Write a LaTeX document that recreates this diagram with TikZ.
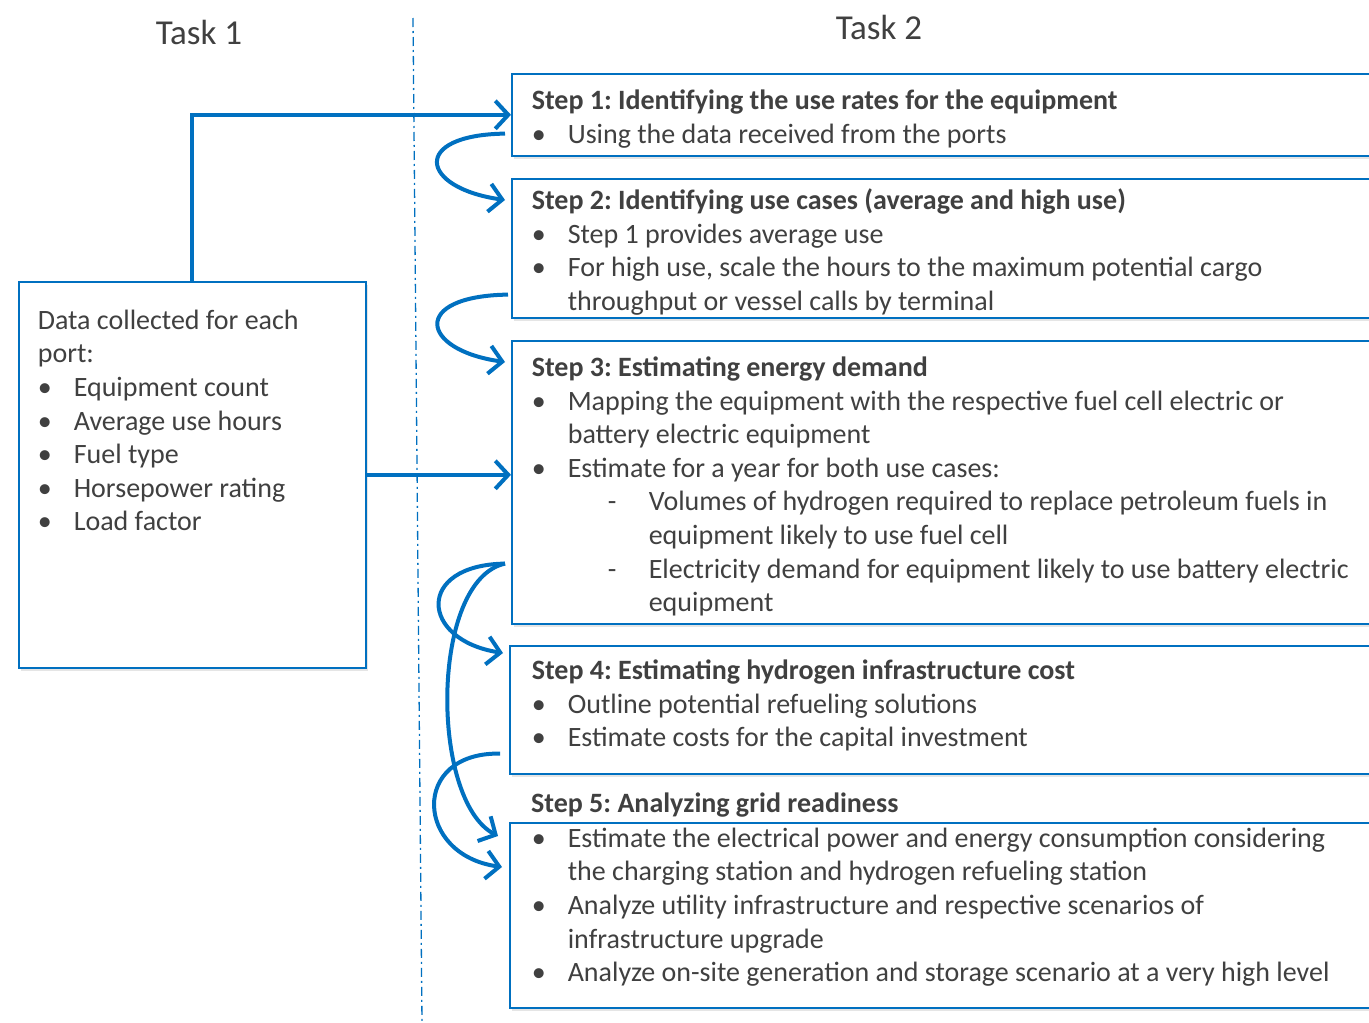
\documentclass[tikz,border=0pt]{standalone}
\usepackage{fontspec}
\setmainfont{Carlito}
\usetikzlibrary{arrows.meta,shadows}
\definecolor{stepblue}{RGB}{0,112,192}
\definecolor{textgray}{RGB}{64,64,64}
\frenchspacing
% bullet and dash items with hanging text
\newcommand{\bul}[1]{\par\hangindent=36pt\hangafter=1\noindent\makebox[36pt][l]{\textbullet}#1\par}
\newcommand{\subdash}[1]{\par\hangindent=117pt\hangafter=1\noindent\hspace*{76pt}\makebox[41pt][l]{-}#1\par}
% box text: height, width, top gap, content
\newcommand{\boxtext}[4]{\begin{minipage}[t][#1][t]{#2}\raggedright\vspace*{#3}#4\end{minipage}}

\begin{document}
\begin{tikzpicture}[x=1pt,y=-1pt,
    every node/.style={text=textgray,font=\fontsize{28}{33.6}\selectfont},
    stepbox/.style={draw=stepblue,line width=1.6pt,fill=white,anchor=north west,
      inner xsep=20pt,inner ysep=0pt,
      drop shadow={shadow xshift=2pt,shadow yshift=-3pt,opacity=.2}},
    flow/.style={stepblue,line width=4pt,-{Straight Barb[length=13pt,width=28pt]}}]
  \useasboundingbox (0,0) rectangle (1369,1023);
  \clip (0,0) rectangle (1369,1023);
  \fill[white] (0,0) rectangle (1369,1023);

  \node (task1) at (199,32) {\fontsize{35}{42}\selectfont Task 1};
  \node (task2) at (879,27) {\fontsize{35}{42}\selectfont Task 2};
  \draw[stepblue,line width=1.3pt,dash pattern=on 9pt off 4pt on 2pt off 4pt] (413,18) -- (422,1023);

  \node[stepbox,inner xsep=19pt] (data) at (18,281) {\boxtext{386pt}{309pt}{28pt}{%
      Data collected for each\\ port:
      \bul{Equipment count}
      \bul{Average use hours}
      \bul{Fuel type}
      \bul{Horsepower rating}
      \bul{Load factor}}};

  \node[stepbox] (s1) at (511,73) {\boxtext{82pt}{860pt}{16pt}{%
      \textbf{Step 1: Identifying the use rates for the equipment}
      \bul{Using the data received from the ports}}};
  \node[stepbox] (s2) at (511,178) {\boxtext{139pt}{860pt}{10pt}{%
      \textbf{Step 2: Identifying use cases (average and high use)}
      \bul{Step 1 provides average use}
      \bul{For high use, scale the hours to the maximum potential cargo\newline throughput or vessel calls by terminal}}};
  \node[stepbox] (s3) at (511,340) {\boxtext{283pt}{860pt}{16pt}{%
      \textbf{Step 3: Estimating energy demand}
      \bul{Mapping the equipment with the respective fuel cell electric or\newline battery electric equipment}
      \bul{Estimate for a year for both use cases:}
      \subdash{Volumes of hydrogen required to replace petroleum fuels in\newline equipment likely to use fuel cell}
      \subdash{Electricity demand for equipment likely to use battery electric\newline equipment}}};
  \node[stepbox,inner xsep=22pt] (s4) at (509,645) {\boxtext{128pt}{856pt}{14pt}{%
      \textbf{Step 4: Estimating hydrogen infrastructure cost}
      \bul{Outline potential refueling solutions}
      \bul{Estimate costs for the capital investment}}};
  \node[anchor=west,inner sep=0pt] (s5title) at (531,805) {\textbf{Step 5: Analyzing grid readiness}};
  \node[stepbox,inner xsep=22pt] (s5) at (509,822) {\boxtext{185pt}{856pt}{5pt}{%
      \bul{Estimate the electrical power and energy consumption considering\newline the charging station and hydrogen refueling station}
      \bul{Analyze utility infrastructure and respective scenarios of\newline infrastructure upgrade}
      \bul{Analyze on-site generation and storage scenario at a very high level}}};

  % task 1 feeds
  \draw[flow] (data.north) |- (s1.west);
  \draw[flow] (data.east) -- (data.east -| s3.west);

  % step to step
  \draw[flow] ([xshift=-6pt,yshift=23pt]s1.south west) .. controls (410,135) and (420,188) .. ([xshift=-6pt,yshift=-22pt]s2.north west);
  \draw[flow] ([xshift=-3pt,yshift=24pt]s2.south west) .. controls (410,296) and (420,350) .. ([xshift=-6pt,yshift=-22pt]s3.north west);
  \draw[flow] ([xshift=-6pt,yshift=61pt]s3.south west) .. controls (415,565) and (420,640) .. ([xshift=-6pt,yshift=-8pt]s4.north west);
  \draw[flow] ([xshift=-6pt,yshift=61pt]s3.south west) .. controls (430,580) and (430,800) .. ([xshift=-11pt,yshift=-14pt]s5.north west);
  \draw[flow] ([xshift=-9pt,yshift=21pt]s4.south west) .. controls (410,752) and (415,855) .. ([xshift=-7pt,yshift=-45pt]s5.north west);
\end{tikzpicture}
\end{document}
